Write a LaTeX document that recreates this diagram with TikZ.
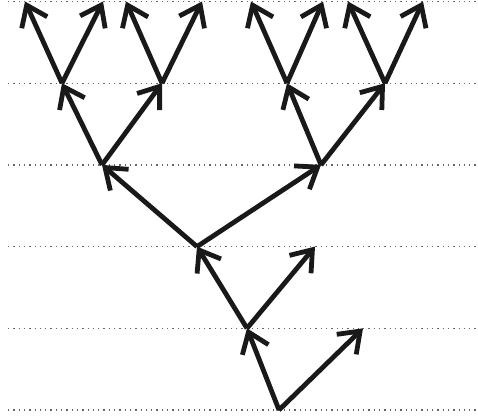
\documentclass[tikz,border=0pt]{standalone}
\usetikzlibrary{arrows.meta}
\begin{document}
\begin{tikzpicture}[x=1pt,y=-1pt,
  branch/.style={line width=4.8pt, line cap=butt, color=black!90,
    -{Straight Barb[sharp,length=19pt,width=28pt]}},
  level/.style={line width=1.3pt, gray!80!black, dash pattern=on 1.3pt off 4pt}]
\useasboundingbox (0,0) rectangle (478,418);
% dotted levels
\foreach \k in {0,...,5}{
  \draw[level] (8,{1.5+81.7*\k}) -- (478,{1.5+81.7*\k});
}
% points
\coordinate (R) at (279,410);
\coordinate (A) at (247,328.3);
\coordinate (B) at (363,328.3);
\coordinate (C) at (197,246.6);
\coordinate (D) at (315,246.6);
\coordinate (E) at (102,164.9);
\coordinate (F) at (321,164.9);
\coordinate (G) at (62,83.2);
\coordinate (H) at (162,83.2);
\coordinate (I) at (287,83.2);
\coordinate (J) at (385,83.2);
\coordinate (G1) at (25,1.5);
\coordinate (G2) at (103,1.5);
\coordinate (H1) at (126,1.5);
\coordinate (H2) at (202,1.5);
\coordinate (I1) at (251,1.5);
\coordinate (I2) at (323,1.5);
\coordinate (J1) at (348,1.5);
\coordinate (J2) at (423,1.5);
% branches
\draw[branch] (R) -- (A);
\draw[branch] (R) -- (B);
\draw[branch] (A) -- (C);
\draw[branch] (A) -- (D);
\draw[branch] (C) -- (E);
\draw[branch] (C) -- (F);
\draw[branch] (E) -- (G);
\draw[branch] (E) -- (H);
\draw[branch] (F) -- (I);
\draw[branch] (F) -- (J);
\draw[branch] (G) -- (G1);
\draw[branch] (G) -- (G2);
\draw[branch] (H) -- (H1);
\draw[branch] (H) -- (H2);
\draw[branch] (I) -- (I1);
\draw[branch] (I) -- (I2);
\draw[branch] (J) -- (J1);
\draw[branch] (J) -- (J2);
\end{tikzpicture}
\end{document}
